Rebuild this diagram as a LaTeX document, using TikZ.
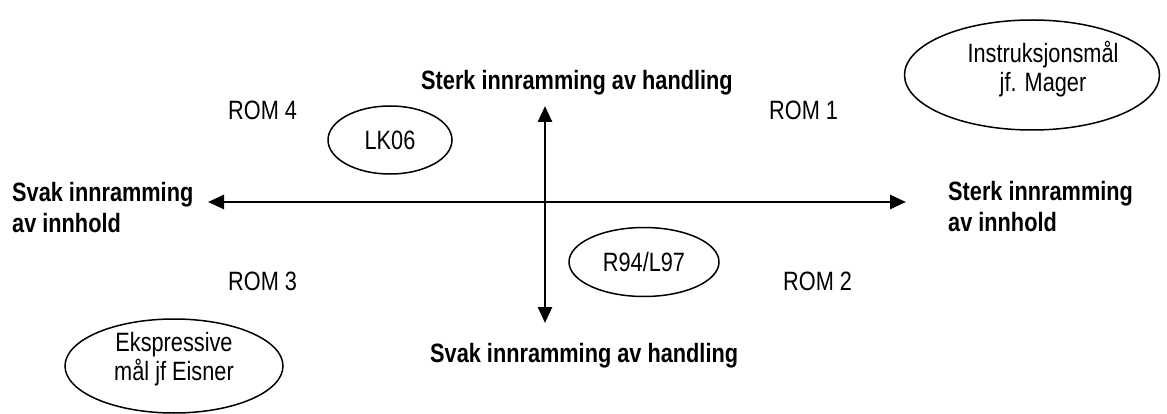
\documentclass[tikz,border=0pt]{standalone}
\usepackage{fontspec}
\setmainfont[FakeStretch=0.82]{Liberation Sans}
\usetikzlibrary{arrows.meta,shapes.geometric}
\begin{document}
\begin{tikzpicture}[x=1pt,y=-1pt,
  lbl/.style={font=\fontsize{26.5}{31}\selectfont, inner sep=0pt, anchor=base west},
  bold/.style={font=\fontsize{26.5}{31}\selectfont\bfseries, inner sep=0pt, anchor=base west, align=left},
  oval/.style={ellipse, draw, line width=1.5pt, inner sep=0pt},
  ovaltext/.style={font=\fontsize{26.5}{29}\selectfont, inner sep=0pt, align=center, anchor=base},
  axis/.style={line width=2.6pt, {Triangle[length=16pt,width=14pt]}-{Triangle[length=16pt,width=14pt]}}]
\useasboundingbox (0,0) rectangle (1167,414);

% axis end points
\coordinate (W) at (208,202);
\coordinate (E) at (906,202);
\coordinate (N) at (545,106);
\coordinate (S) at (545,323);
\draw[axis] (W) -- (E);
\draw[axis] (N) -- (S);

% axis labels (two-line nodes are placed by the baseline of their last line)
\node[bold] (top) at (421,90) {Sterk innramming av handling};
\node[bold] (bottom) at (430,362) {Svak innramming av handling};
\node[bold] (left) at (12,233) {Svak innramming\\av innhold};
\node[bold] (right) at (948,232) {Sterk innramming\\av innhold};

% quadrant names
\node[lbl] (rom4) at (228,120) {ROM 4};
\node[lbl] (rom1) at (769,120) {ROM 1};
\node[lbl] (rom3) at (228,290) {ROM 3};
\node[lbl] (rom2) at (783,290) {ROM 2};

% ellipses
\node[oval, minimum width=124pt, minimum height=68pt, font=\fontsize{26.5}{29}\selectfont] (lk) at (390,140) {LK06};
\node[oval, minimum width=150pt, minimum height=69pt, font=\fontsize{26.5}{29}\selectfont] (r94) at (644,262) {R94/L97};
\node[oval, minimum width=255pt, minimum height=110pt] (mager) at (1032,75) {};
\node[ovaltext] (magertext) at (1043,92) {Instruksjonsmål\\jf. Mager};
\node[oval, minimum width=218pt, minimum height=94pt] (eisner) at (174,366) {};
\node[ovaltext] (eisnertext) at (174,380) {Ekspressive\\mål jf Eisner};
\end{tikzpicture}
\end{document}
